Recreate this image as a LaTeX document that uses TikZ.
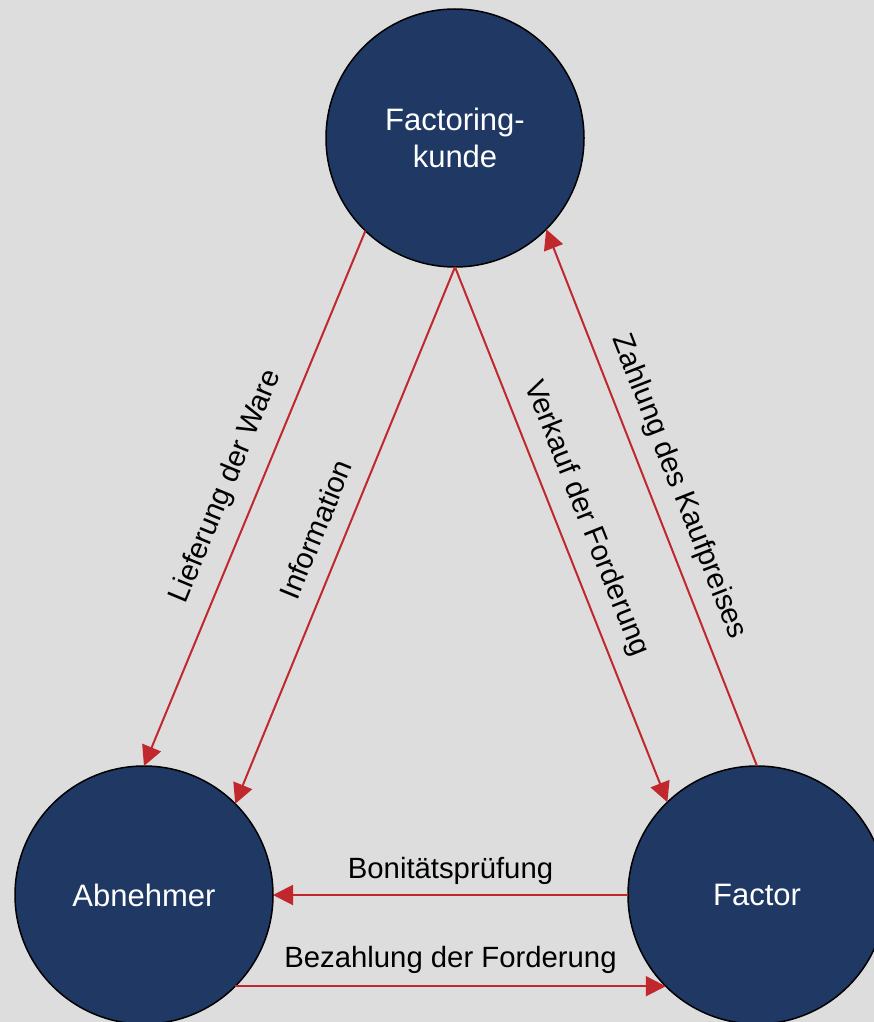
\documentclass[tikz,border=0pt]{standalone}
\usepackage{fontspec}
\setmainfont{Liberation Sans}
\usetikzlibrary{arrows.meta}
\definecolor{bgc}{HTML}{DDDDDD}
\definecolor{navy}{HTML}{203864}
\definecolor{arrred}{HTML}{C0282D}
\begin{document}
\begin{tikzpicture}[x=1pt,y=-1pt,
  party/.style={circle, draw=black, line width=1.5pt, fill=navy, minimum size=258pt,
    inner sep=0pt, outer sep=0pt, text=white, font=\fontsize{31}{37}\selectfont, align=center},
  flow/.style={draw=arrred, line width=2pt, -{Triangle[length=20pt,width=20pt]}},
  lbl/.style={font=\fontsize{29.3}{35}\selectfont, text=black, inner sep=0pt}]
\useasboundingbox (0,0) rectangle (874,1022);
\clip (0,0) rectangle (874,1022);
\fill[bgc] (0,0) rectangle (874,1022);
\node[party] (fk) at (455,138) {Factoring-\\kunde};
\node[party] (ab) at (144,895) {Abnehmer};
\node[party] (fa) at (757,895) {Factor};
\draw[flow] (fk.226) -- node[midway, sloped, lbl, yshift=31pt] {Lieferung der Ware} (ab.90);
\draw[flow] (fk.270) -- node[pos=0.51, sloped, lbl, yshift=29.5pt] {Information} (ab.45);
\draw[flow] (fk.270) -- node[pos=0.49, sloped, lbl, yshift=29pt] {Verkauf der Forderung} (fa.134);
\draw[flow] (fa.90) -- node[midway, sloped, lbl, yshift=29pt] {Zahlung des Kaufpreises} (fk.-45);
\draw[flow] (fa.180) -- node[midway, lbl, yshift=24pt] {Bonitätsprüfung} (ab.0);
\draw[flow] (ab.-45) -- node[midway, lbl, yshift=26pt] {Bezahlung der Forderung} (fa.-135);
\end{tikzpicture}
\end{document}
